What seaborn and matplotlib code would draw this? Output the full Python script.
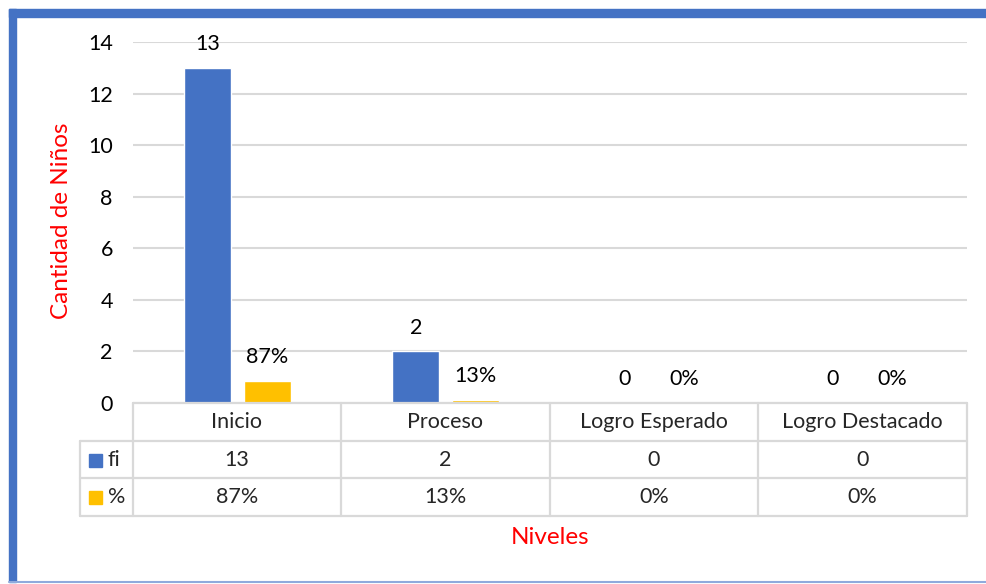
import matplotlib
matplotlib.use("Agg")
import matplotlib.pyplot as plt
import seaborn as sns
import pandas as pd
from matplotlib.lines import Line2D
from matplotlib.patches import Rectangle

# data
niveles = ["Inicio", "Proceso", "Logro Esperado", "Logro Destacado"]
fi = [13, 2, 0, 0]
porcentaje = [0.87, 0.13, 0.0, 0.0]
pct_labels = ["87%", "13%", "0%", "0%"]
series = ["fi", "%"]
colores = ["#4472C4", "#FFC000"]

sns.set_theme(style="white")
plt.rcParams['font.family'] = ['Lato', 'DejaVu Sans']
FS = 15.5

df = pd.DataFrame({
    "Niveles": niveles * 2,
    "valor": fi + porcentaje,
    "serie": ["fi"] * 4 + ["%"] * 4,
})

W, H = 987, 584
fig = plt.figure(figsize=(W / 100, H / 100), dpi=100)

def fx(px):
    return px / W

def fy(py):
    return 1 - py / H

# plot area in pixel coords
x0, x1 = 133, 967
y_top, y_zero = 42, 403
ax = fig.add_axes([fx(x0), fy(y_zero), fx(x1 - x0), (y_zero - y_top) / H])

sns.barplot(data=df, x="Niveles", y="valor", hue="serie", hue_order=series,
            palette=colores, width=0.575, gap=0.217, ax=ax, legend=False,
            saturation=1)

ax.set_ylim(0, 14)
ax.set_xlim(-0.5, 3.5)
ax.set_yticks(range(0, 15, 2))
ax.tick_params(axis="y", labelsize=FS, length=0, pad=14.5, labelcolor="black")
ax.set_xticks([])
ax.set_xlabel("")
ax.set_ylabel("")
ax.yaxis.grid(True, color="#d9d9d9", lw=1.5)
ax.set_axisbelow(True)
for s in ax.spines.values():
    s.set_visible(False)

ax.bar_label(ax.containers[0], labels=[str(v) for v in fi], padding=10,
             fontsize=FS, color="black")
ax.bar_label(ax.containers[1], labels=pct_labels, padding=10,
             fontsize=FS, color="black")

# data table under the plot
gris = "#d9d9d9"
col_edges = [133, 341, 550, 758, 967]
rows = [403, 441, 478, 516]
lw = 1.6

def hline(y, xa, xb):
    fig.add_artist(Line2D([fx(xa), fx(xb)], [fy(y), fy(y)], color=gris, lw=lw))

def vline(x, ya, yb):
    fig.add_artist(Line2D([fx(x), fx(x)], [fy(ya), fy(yb)], color=gris, lw=lw))

hline(rows[0], 133, 967)
for y in rows[1:]:
    hline(y, 80, 967)
for x in col_edges:
    vline(x, rows[0], rows[3])
vline(80, rows[1], rows[3])

for i, nombre in enumerate(niveles):
    cx = (col_edges[i] + col_edges[i + 1]) / 2
    fig.text(fx(cx), fy((rows[0] + rows[1]) / 2), nombre, ha="center", va="center", fontsize=FS)
    fig.text(fx(cx), fy((rows[1] + rows[2]) / 2), str(fi[i]), ha="center", va="center", fontsize=FS)
    fig.text(fx(cx), fy((rows[2] + rows[3]) / 2), pct_labels[i], ha="center", va="center", fontsize=FS)

for j, (nombre, c) in enumerate(zip(series, colores)):
    cy = (rows[1 + j] + rows[2 + j]) / 2
    fig.add_artist(Rectangle((fx(89), fy(cy + 7)), fx(13), 13 / H, color=c,
                             transform=fig.transFigure))
    fig.text(fx(108), fy(cy), nombre, ha="left", va="center", fontsize=FS)

# axis titles
fig.text(fx((x0 + x1) / 2), fy(537), "Niveles", ha="center", va="center",
         fontsize=17.5, color="#FF0000")
fig.text(fx(62), fy(221), "Cantidad de Niños", ha="center",
         va="center", rotation=90, fontsize=17.5, color="#FF0000")

# chart frame
azul = "#4472C4"
fig.add_artist(Rectangle((fx(9), fy(17)), fx(W - 9), 8 / H, color=azul,
                         transform=fig.transFigure))
fig.add_artist(Rectangle((fx(9), fy(582)), fx(7), (582 - 9) / H, color=azul,
                         transform=fig.transFigure))
fig.add_artist(Line2D([fx(9), 1], [fy(581.5), fy(581.5)], color="#8faadc", lw=1.5))

fig.savefig("out.png", dpi=100)
